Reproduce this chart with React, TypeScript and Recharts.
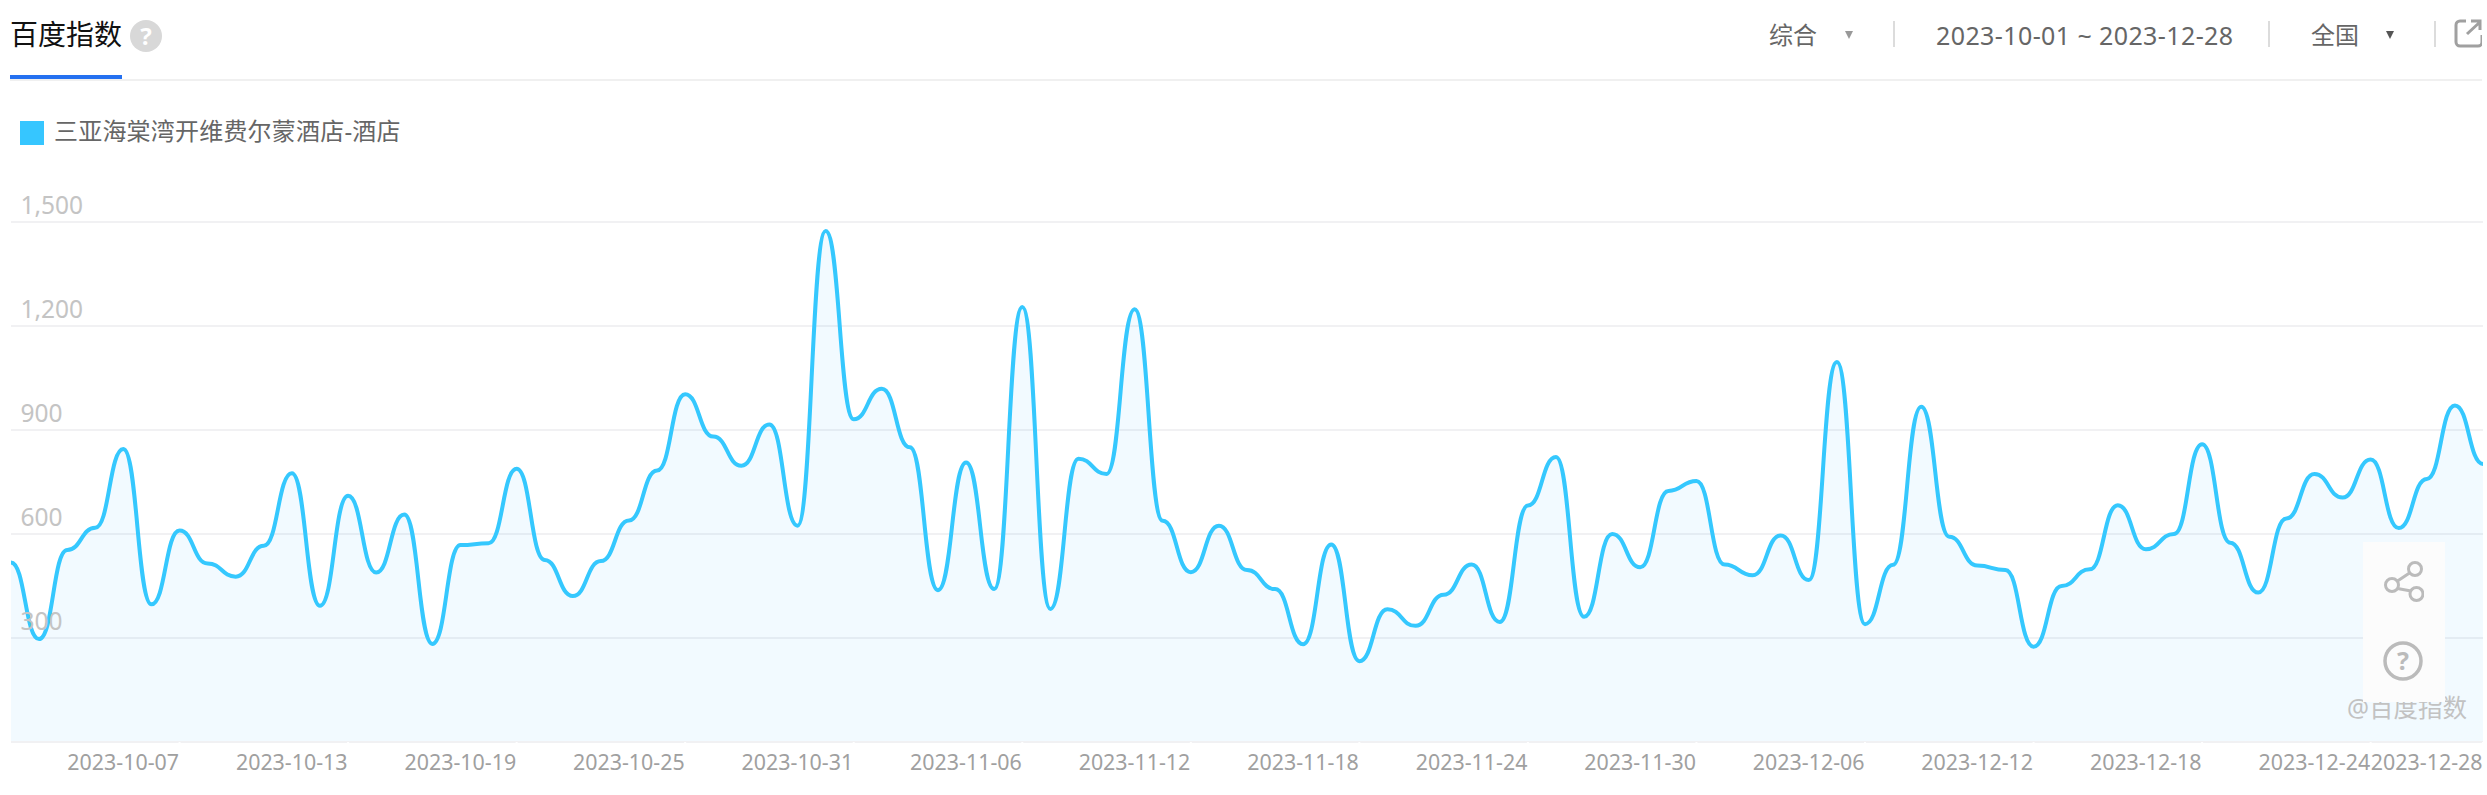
import React from "react";
import { ComposedChart, Area, Line, XAxis, YAxis, CartesianGrid } from "recharts";

const SERIES_NAME = "三亚海棠湾开维费尔蒙酒店-酒店";
const DATE_RANGE = "2023-10-01 ~ 2023-12-28";
const octValues = [518, 297, 554, 618, 845, 397, 610, 515, 477, 566, 775, 393, 710, 489, 656, 283, 568, 573, 788, 525, 421, 522, 639, 783, 1003, 881, 797, 916, 624, 1474, 931];
const novValues = [1019, 850, 438, 806, 441, 1255, 384, 817, 773, 1248, 638, 490, 624, 496, 441, 282, 570, 233, 383, 335, 425, 512, 346, 682, 822, 361, 600, 504, 724, 753];
const decValues = [512, 481, 596, 467, 1096, 340, 511, 967, 592, 509, 496, 275, 450, 498, 683, 556, 600, 859, 575, 431, 645, 773, 705, 815, 617, 759, 971, 802];
const values = [...octValues, ...novValues, ...decValues];

const monthLengths: [string, number][] = [["10", 31], ["11", 30], ["12", 28]];
const dates: string[] = monthLengths.flatMap(([m, n]) =>
  Array.from({ length: n }, (_, i) => `2023-${m}-${String(i + 1).padStart(2, "0")}`)
);
const xTicks = ["2023-10-07", "2023-10-13", "2023-10-19", "2023-10-25", "2023-10-31", "2023-11-06", "2023-11-12", "2023-11-18", "2023-11-24", "2023-11-30", "2023-12-06", "2023-12-12", "2023-12-18", "2023-12-24", "2023-12-28"];
const yTicks = [0, 300, 600, 900, 1200, 1500];
const data = dates.map((date, i) => ({ date, value: values[i] }));

const LINE = "#35c8fe";
const FONT = '"Noto Sans", "Noto Sans CJK SC", sans-serif';

const fmt = (v: number) => v.toLocaleString("en-US");

const YTick = (p: any) =>
  p.payload.value === 0 ? <g /> : (
    <text x={20.5} y={p.y - 8} fontSize={24.5} fontFamily={FONT} fill="#c4c4c4">{fmt(p.payload.value)}</text>
  );

const XTick = (p: any) => (
  <text x={p.x - 0.5} y={p.y + 23} textAnchor="end" fontSize={21.4} fontFamily={FONT} fill="#a0a0a0">{p.payload.value}</text>
);

const Sep = ({ x }: { x: number }) => (
  <div style={{ position: "absolute", left: x, top: 21, width: 2, height: 26, background: "#dcdcdc" }} />
);
const Tri = ({ x, color }: { x: number; color: string }) => (
  <div style={{ position: "absolute", left: x - 4, top: 31, width: 0, height: 0, borderLeft: "4px solid transparent", borderRight: "4px solid transparent", borderTop: `8px solid ${color}` }} />
);
const Label = ({ x, y, size, color, spacing, children }: any) => (
  <div style={{ position: "absolute", left: x, top: y, transform: "translateY(-50%)", fontSize: size, color, letterSpacing: spacing, fontFamily: FONT, whiteSpace: "nowrap", lineHeight: 1.2 }}>{children}</div>
);

export default function App() {
  return (
    <div style={{ position: "absolute", left: 0, top: 0, width: 2487, height: 795, overflow: "hidden", background: "#fff" }}>
      <Label x={10} y={35} size={28} color="#111">百度指数</Label>
      <div style={{ position: "absolute", left: 130, top: 20, width: 32, height: 32, borderRadius: 16, background: "#d8d8d8", color: "#fff", fontSize: 24, fontWeight: 700, textAlign: "center", lineHeight: "32px", fontFamily: FONT }}>?</div>
      <div style={{ position: "absolute", left: 10, top: 79, width: 2472, height: 2, background: "#f0f0f0" }} />
      <div style={{ position: "absolute", left: 10, top: 75, width: 112, height: 4, background: "#2470f0" }} />

      <Label x={1769} y={35} size={24} color="#666">综合</Label>
      <Tri x={1849} color="#999" />
      <Sep x={1893} />
      <Label x={1936} y={35} size={25} spacing={0.4} color="#666">{DATE_RANGE}</Label>
      <Sep x={2268} />
      <Label x={2311} y={35} size={24} color="#666">全国</Label>
      <Tri x={2390} color="#555" />
      <Sep x={2434} />
      <svg style={{ position: "absolute", left: 2454, top: 18 }} width={28} height={30} viewBox="0 0 28 30" fill="none" stroke="#a0a0a0" strokeWidth={3}>
        <path d="M12 3H6a4 4 0 0 0-4 4v17a4 4 0 0 0 4 4h18a4 4 0 0 0 4-4v-7" />
        <path d="M13 16L26 4M17 3h9v9" />
      </svg>

      <div style={{ position: "absolute", left: 20, top: 121, width: 24, height: 24, background: "#36c6ff" }} />
      <Label x={54} y={131} size={24} spacing={0.2} color="#666">{SERIES_NAME}</Label>

      <div style={{ position: "absolute", left: 0, top: 0 }}>
        <ComposedChart width={2487} height={795} data={data} margin={{ top: 222, right: 4, bottom: 0, left: 10 }}>
          <CartesianGrid horizontal vertical={false} stroke="#f1f1f3" strokeWidth={2} />
          <XAxis dataKey="date" scale="point" ticks={xTicks} interval={0} height={53} padding={{ left: 0, right: 0 }} axisLine={{ stroke: "#f1f1f3", strokeWidth: 2 }} tickLine={{ stroke: "#fff", strokeWidth: 2 }} tickSize={3} tick={<XTick />} />
          <YAxis domain={[0, 1500]} ticks={yTicks} width={1} axisLine={false} tickLine={false} tick={<YTick />} />
          <Area dataKey="value" type="bumpX" stroke="none" fill="#3cb4ff" fillOpacity={0.065} isAnimationActive={false} dot={false} activeDot={false} />
          <Line dataKey="value" type="bumpX" stroke={LINE} strokeWidth={4} dot={false} activeDot={false} isAnimationActive={false} />
        </ComposedChart>
      </div>

      <Label x={2347} y={708} size={24.5} color="#c2c2c2">@百度指数</Label>
      <div style={{ position: "absolute", left: 2363, top: 542, width: 82, height: 160, background: "#fcfcfc" }} />
      <svg style={{ position: "absolute", left: 2382, top: 558 }} width={42} height={46} viewBox="0 0 42 46" fill="none" stroke="#bbb" strokeWidth={3}>
        <circle cx={10} cy={27} r={6.5} /><circle cx={33} cy={11} r={6.5} /><circle cx={34.5} cy={36} r={6.5} />
        <path d="M15.5 23L27.5 15M15.5 30.5L29 33" />
      </svg>
      <svg style={{ position: "absolute", left: 2382, top: 640 }} width={42} height={42} viewBox="0 0 42 42" fill="none" stroke="#bbb" strokeWidth={3.5}>
        <circle cx={21} cy={21} r={18} />
        <text x={21} y={30} textAnchor="middle" fontSize={25} fontWeight={700} fontFamily={FONT} fill="#bbb" stroke="none">?</text>
      </svg>
    </div>
  );
}
